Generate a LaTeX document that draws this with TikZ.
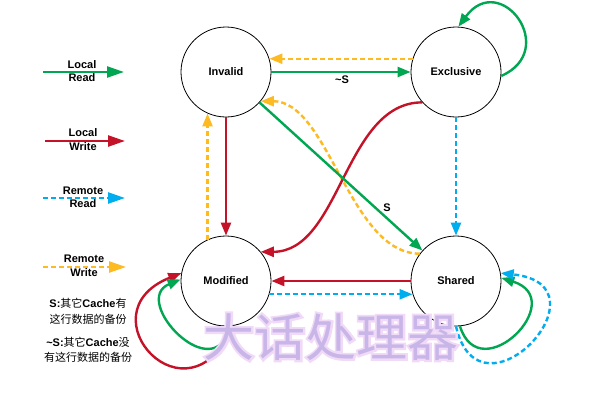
\documentclass[tikz,border=0pt]{standalone}
\usepackage{fontspec}
\setmainfont{Liberation Sans}
\newfontfamily\cjk{Noto Sans CJK SC}
\newfontfamily\cjkhalo{Noto Sans CJK SC}[FakeBold=8]
\usetikzlibrary{arrows.meta}
\definecolor{cgreen}{RGB}{0,166,81}
\definecolor{cred}{RGB}{196,18,40}
\definecolor{ccyan}{RGB}{0,174,239}
\definecolor{corange}{RGB}{253,186,33}
\definecolor{wmfill}{RGB}{200,182,232}
\definecolor{wmhalo}{RGB}{241,218,247}
\begin{document}
\begin{tikzpicture}[x=1pt,y=-1pt,
  state/.style={circle,draw=black,fill=white,line width=0.8pt,minimum size=90pt,inner sep=0pt,font=\fontsize{11}{13}\selectfont\bfseries},
  conn/.style={line width=2.4pt,-{Triangle[length=13pt,width=10pt]}},
  lr/.style={conn,draw=cgreen},
  lw/.style={conn,draw=cred},
  rr/.style={conn,draw=ccyan,dash pattern=on 5pt off 3pt},
  rw/.style={conn,draw=corange,dash pattern=on 5pt off 3pt},
  legarrow/.style={-{Triangle[length=17pt,width=11pt]}},
  lbl/.style={font=\fontsize{11}{13}\selectfont\bfseries,inner sep=0pt},
  note/.style={font=\fontsize{11}{13}\selectfont,inner sep=0pt},
  wm/.style={font=\cjk\fontsize{51}{51}\selectfont,inner sep=0pt},
  wmh/.style={font=\cjkhalo\fontsize{51}{51}\selectfont,inner sep=0pt},
]
\fill[white] (0,0) rectangle (589,405);
\useasboundingbox (0,0) rectangle (589,405);

% legend
\coordinate (lrA) at (43,72); \coordinate (lrB) at (124,72);
\draw[lr,legarrow] (lrA) -- (lrB);
\node[lbl] (lrT1) at (82,65) {Local};
\node[lbl] (lrT2) at (82,78) {Read};

\coordinate (lwA) at (45,141); \coordinate (lwB) at (125,141);
\draw[lw,legarrow] (lwA) -- (lwB);
\node[lbl] (lwT1) at (83,133) {Local};
\node[lbl] (lwT2) at (83,147) {Write};

\coordinate (rrA) at (43,198); \coordinate (rrB) at (125,198);
\draw[rr,legarrow] (rrA) -- (rrB);
\node[lbl] (rrT1) at (83,191) {Remote};
\node[lbl] (rrT2) at (83,204) {Read};

\coordinate (rwA) at (43,267); \coordinate (rwB) at (126,267);
\draw[rw,legarrow] (rwA) -- (rwB);
\node[lbl] (rwT1) at (84,259) {Remote};
\node[lbl] (rwT2) at (84,273) {Write};

% notes
\node[note] (n1) at (88,303) {{\bfseries S:}{\cjk 其它}{\bfseries Cache}{\cjk 有}};
\node[note] (n2) at (88,319) {\cjk 这行数据的备份};
\node[note] (n3) at (88,342) {{\bfseries \textasciitilde S:}{\cjk 其它}{\bfseries Cache}{\cjk 没}};
\node[note] (n4) at (88,357) {\cjk 有这行数据的备份};

% states
\node[state] (I) at (226,72) {Invalid};
\node[state] (E) at (456,72) {Exclusive};
\node[state] (M) at (226,281) {Modified};
\node[state] (S) at (456,281) {Shared};

% connectors
\draw[lr] (I.east) -- (E.west);
\draw[rw] (E.163) -- (I.17);
\draw[lw] (I.south) -- (M.north);
\draw[rw] (M.114) -- (I.246);
\draw[lw] (S.west) -- (M.east);
\draw[rr] (M.-17) -- (S.197);
\draw[rr] (E.south) -- (S.north);
\draw[rw] (S.143) .. controls +(-70,0) and +(68,0) .. (I.-40);
\draw[lw] (E.222) .. controls +(-78,0) and +(80,0) .. (M.40);
\draw[lr] (I) -- (S);

% self loops
\draw[lr] (E.-5) .. controls +(59,-26) and +(42,-57) .. (E.87);
\draw[lr] (S.-85) .. controls +(20,64) and +(69,22) .. (S.4);
\draw[rr] (S.-90) .. controls +(24,103) and +(113,12) .. (S.10);
\draw[lw] (M.-81) .. controls +(-45,105) and +(-100,40) .. (M.170);
\draw[lr] (M.-85) .. controls +(-15,64) and +(-51,21) .. (M.178);

% edge labels
\node[lbl] (tNS) at (342,80) {\textasciitilde S};
\node[lbl] (tS) at (387,208) {S};

% watermark
\node[wmh,text=wmhalo] (wmh) at (331,337) {大话处理器};
\node[wm,text=wmfill] (wm) at (331,337) {大话处理器};
\end{tikzpicture}
\end{document}
